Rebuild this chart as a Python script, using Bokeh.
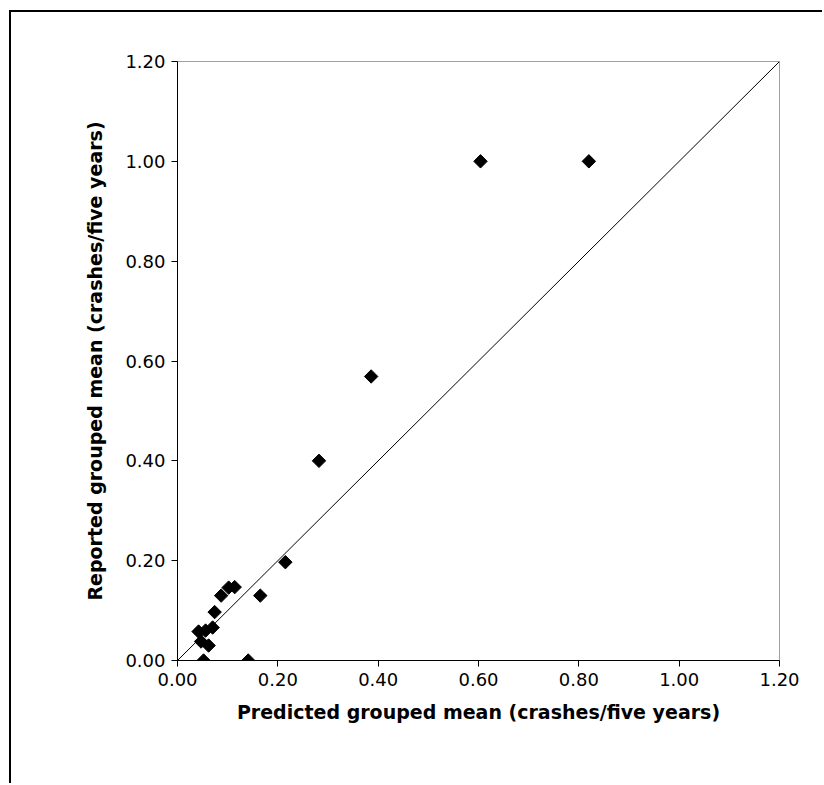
import math
from bokeh.plotting import figure
from bokeh.models import Range1d, FixedTicker, NumeralTickFormatter
from bokeh.embed import file_html
from bokeh.resources import INLINE

predicted = [0.215, 0.165, 0.114, 0.102, 0.087, 0.074, 0.070, 0.056, 0.042, 0.047, 0.062, 0.052, 0.141,
             0.282, 0.386, 0.604, 0.820]
reported = [0.197, 0.130, 0.147, 0.146, 0.130, 0.097, 0.066, 0.060, 0.058, 0.038, 0.030, 0.0, 0.0,
            0.400, 0.569, 1.000, 1.000]
line_x = [0.0, 1.2]
line_y = [0.0, 1.2]
ticks = [0.0, 0.2, 0.4, 0.6, 0.8, 1.0, 1.2]

p = figure(width=813, height=773, output_backend="svg", toolbar_location=None,
           x_range=Range1d(0, 1.2), y_range=Range1d(0, 1.2),
           min_border_left=166, min_border_right=45, min_border_top=49, min_border_bottom=125)
p.margin = (10, 0, 0, 9)
p.styles = {"border-left": "2px solid black", "border-top": "2px solid black"}

p.grid.visible = False
p.outline_line_color = "#a0a0a0"
p.background_fill_color = "white"
p.border_fill_color = "white"

for ax in (p.xaxis[0], p.yaxis[0]):
    ax.ticker = FixedTicker(ticks=ticks)
    ax.formatter = NumeralTickFormatter(format="0.00")
    ax.minor_tick_line_color = None
    ax.major_tick_in = 0
    ax.major_tick_out = 6
    ax.axis_line_color = "black"
    ax.major_tick_line_color = "black"
    ax.major_label_text_font = "DejaVu Sans"
    ax.major_label_text_font_size = "18px"
    ax.major_label_text_color = "black"
    ax.axis_label_text_font = "DejaVu Sans"
    ax.axis_label_text_font_size = "19px"
    ax.axis_label_text_font_style = "bold"
    ax.axis_label_text_color = "black"
    ax.major_label_standoff = 6

p.xaxis.axis_label = "Predicted grouped mean (crashes/five years)"
p.yaxis.axis_label = "Reported grouped mean (crashes/five years)"
p.xaxis.axis_label_standoff = 12
p.yaxis.axis_label_standoff = 16

p.line(line_x, line_y, line_color="black", line_width=1)
p.scatter(predicted, reported, marker="square", angle=math.pi / 4, size=9.5,
          fill_color="black", line_color="black")

open("out.html", "w").write(file_html(p, INLINE))
